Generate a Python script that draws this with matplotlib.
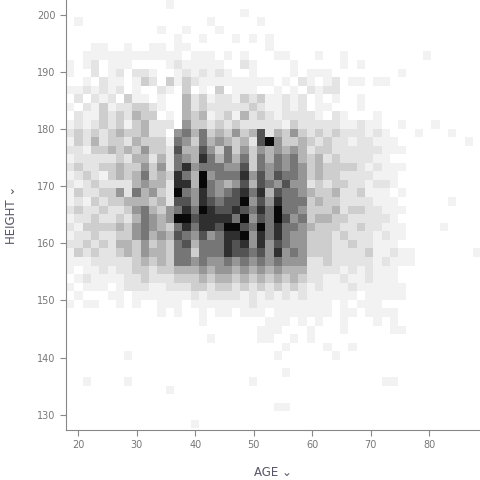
import numpy as np
import matplotlib
matplotlib.use("Agg")
import matplotlib.pyplot as plt
from matplotlib.colors import LinearSegmentedColormap, PowerNorm

# binned counts (intensity 0-9), rows from top (tallest) to bottom
rows = [
"00000000000010000000000000000000000000000000000000",
"00000000000000000000010000000000000000000000000000",
"01000000000000000100000100000000000000000000000000",
"00000000000100100010000000000000000000000000000000",
"00000000000001001000101010000000000000000000000000",
"00011001001101100000000010000000000000000000000000",
"00111111111111011101010001100010010000000001000000",
"10120111000012111110021000010000010100000000000000",
"10020120221001212121001000010111000000001000000000",
"00102110132031321111111110102101201101100000000000",
"11212120100210301030111001010212200000000000000000",
"02021203110100423122132311212010100100000000000000",
"10213122332100423222223211212011000100000000000000",
"02113232433010434123142321222210210001000000000000",
"12123231342220533232322222132222211211001000100000",
"23232343342205646343534724353232322212100010001000",
"13242332433316536454342795334323221221110000000010",
"22133434353327447536353545454233222222111000000000",
"12222232442426548646463646564342322221100000000000",
"23223343353526856665573656565343333212111000000000",
"12321343463438649566685757665343322221110000000000",
"21232222454428849654574765755232332212210000000000",
"13223352645329658656786847665433422311101000000000",
"12132334443427758767795758666343322221110000001000",
"23223223564356869877876869665333423322111000000000",
"12232232465459978888695769756344332222210000000000",
"21333343565436868879976968665433322322111000010000",
"12232233564547657568895868655333232221211000000000",
"22323244353436746668785857655333223221110000000000",
"13232234354436636668776758565333222231121100000001",
"11122222343436656556565656555223222221211100000000",
"10112122332334445455454545444222212121110000000000",
"01211112232223334344343434343221121121110000000000",
"10111012221122233233232323232121112111111000000000",
"01000110111111121222212121212111111011111000000000",
"10110010100111011111112111111111010111000000000000",
"00000000000101001011011101111111011011110000000000",
"00000000000000001000000011101010010001010000000000",
"00000000000000000000000111000100010000011000000000",
"00000000000000000100000110010100000000000000000000",
"00000000000000000000000000100001001000000000000000",
"00000001000000000000000001000000100000000000000000",
"00000000000000000000000000000000000000000000000000",
"00000000000000000000000000100000000000000000000000",
"00100001000000000000001000000000000000110000000000",
"00000000000010000000000000000000000000000000000000",
"00000000000000000000000000000000000000000000000000",
"00000000000000000000000001100000000000000000000000",
"00000000000000000000000000000000000000000000000000",
"00000000000000010000000000000000000000000000000000",
]
x_start, x_bin = 17.9, 1.42
y_top, y_bin = 202.6, 1.5
x_ticks = [20, 30, 40, 50, 60, 70, 80]
y_ticks = [130, 140, 150, 160, 170, 180, 190, 200]

counts = np.array([[int(ch) for ch in r] for r in rows], dtype=float)[::-1]
nr, nc = counts.shape
xe = x_start + x_bin * np.arange(nc + 1)
ye = (y_top - y_bin * nr) + y_bin * np.arange(nr + 1)
data = np.ma.masked_equal(counts, 0)

cmap = LinearSegmentedColormap.from_list("g", ["#f2f2f2", "#080808"])
fig = plt.figure(figsize=(4.8, 4.8), dpi=100)
ax = fig.add_axes([0.1375, 0.104, 0.8625, 0.896])
ax.pcolormesh(xe, ye, data, cmap=cmap, norm=PowerNorm(gamma=1.35, vmin=1, vmax=9))
ax.set_xlim(17.9, 88.7)
ax.set_ylim(127.3, 202.6)
ax.set_xticks(x_ticks)
ax.set_yticks(y_ticks)
for s in ["top", "right"]:
    ax.spines[s].set_visible(False)
for s in ["left", "bottom"]:
    ax.spines[s].set_color("#888888")
ax.tick_params(colors="#888888", labelcolor="#777777", labelsize=7, length=4)
ax.set_xlabel("AGE ⌄", color="#555566", fontsize=8.5, labelpad=11)
ax.set_ylabel("HEIGHT ⌄", color="#555566", fontsize=8.5, labelpad=14)
fig.savefig("out.png", dpi=100)
